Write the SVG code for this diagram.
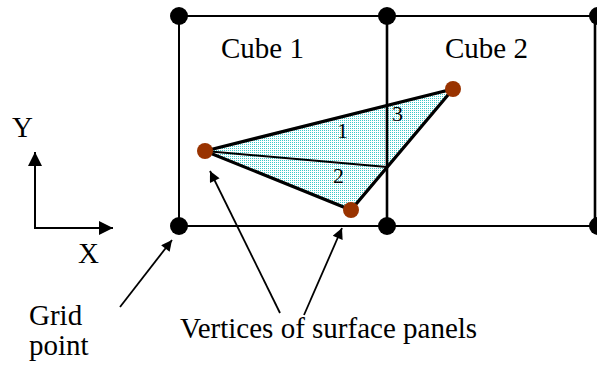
<svg xmlns="http://www.w3.org/2000/svg" width="597" height="366" viewBox="0 0 597 366">
<style>
.t{font-family:'Liberation Serif','Times New Roman',Tinos,'DejaVu Serif',serif;fill:#000}
.big{font-size:29px}
.num{font-size:22px}
.grid{stroke:#000;stroke-width:2;fill:none}
.gp{fill:#000}
.vx{fill:#993300}
.edge{stroke:#000;stroke-width:3.2;fill:none;stroke-linecap:round}
.thin{stroke:#000;stroke-width:1.6;fill:none}
.arr{stroke:#000;stroke-width:1.8;fill:none;marker-end:url(#ah)}
</style>
<defs>
<pattern id="dots" width="2" height="2" patternUnits="userSpaceOnUse">
<rect width="2" height="2" fill="#ffffff"/>
<rect width="1" height="1" fill="#3cc8c8"/>
</pattern>
<marker id="ah" viewBox="0 0 10 10" refX="10" refY="5" markerWidth="7" markerHeight="6" markerUnits="strokeWidth" orient="auto">
<path d="M0,0 L10,5 L0,10 z" fill="#000"/>
</marker>
<marker id="ax" viewBox="0 0 10 10" refX="10" refY="5" markerWidth="15" markerHeight="14" markerUnits="userSpaceOnUse" orient="auto">
<path d="M0,0 L10,5 L0,10 z" fill="#000"/>
</marker>
</defs>
<g id="panel">
<polygon points="205,151 453,89 351,210" fill="url(#dots)"/>
</g>
<g id="cubes">
<line class="grid" x1="179" y1="16" x2="597" y2="16"/>
<line class="grid" x1="179" y1="226" x2="597" y2="226"/>
<line class="grid" x1="179" y1="16" x2="179" y2="226"/>
<line class="grid" x1="387" y1="16" x2="387" y2="226" style="stroke-width:2.6"/>
<line class="grid" x1="595" y1="16" x2="595" y2="226" style="stroke-width:2.6"/>
</g>
<g id="panel-edges">
<polyline class="edge" points="205,151 453,89 351,210 205,151"/>
<line class="thin" x1="205" y1="151" x2="387" y2="167" style="stroke-width:2"/>
</g>
<g id="grid-points">
<circle class="gp" cx="179" cy="16" r="9"/>
<circle class="gp" cx="387" cy="16" r="9"/>
<circle class="gp" cx="598" cy="16" r="9"/>
<circle class="gp" cx="179" cy="226" r="9"/>
<circle class="gp" cx="387" cy="226" r="9"/>
<circle class="gp" cx="598" cy="226" r="9"/>
</g>
<g id="vertices">
<circle class="vx" cx="205" cy="151" r="8"/>
<circle class="vx" cx="453" cy="89" r="8"/>
<circle class="vx" cx="351" cy="210" r="8"/>
</g>
<g id="labels" font-family="'Liberation Serif', 'Times New Roman', serif">
<text class="t big" x="221" y="58">Cube 1</text>
<text class="t big" x="445" y="58">Cube 2</text>
<text class="t num" x="337" y="138">1</text>
<text class="t num" x="333" y="183">2</text>
<text class="t num" x="392" y="121">3</text>
<text class="t big" x="12" y="137">Y</text>
<text class="t big" x="78" y="263">X</text>
<text class="t big" x="29" y="325">Grid</text>
<text class="t big" x="29" y="355">point</text>
<text class="t big" x="180" y="338">Vertices of surface panels</text>
</g>
<g id="connectors">
<line x1="35" y1="228" x2="35" y2="152" stroke="#000" stroke-width="2" marker-end="url(#ax)"/>
<line x1="34" y1="228" x2="113" y2="228" stroke="#000" stroke-width="2" marker-end="url(#ax)"/>
<line class="arr" x1="120" y1="307" x2="172" y2="240"/>
<line class="arr" x1="280" y1="313" x2="210" y2="171"/>
<line class="arr" x1="304" y1="315" x2="342" y2="228"/>
</g>
</svg>
